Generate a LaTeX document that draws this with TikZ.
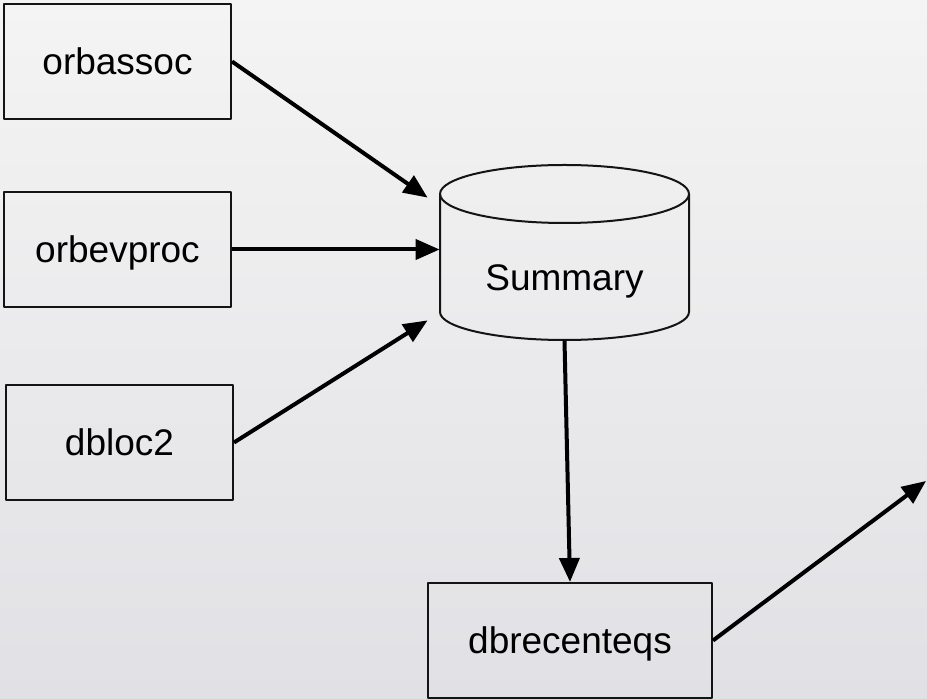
\documentclass[tikz,border=0pt]{standalone}
\usepackage{fontspec}
\setmainfont{Liberation Sans}
\usetikzlibrary{arrows.meta,calc}
\definecolor{bgtop}{RGB}{244,244,244}
\definecolor{bgmid}{RGB}{233,234,234}
\definecolor{bgbot}{RGB}{225,225,229}
\definecolor{ink}{RGB}{20,20,20}
\tikzset{
  tbl/.style={draw=ink,line width=1pt,minimum width=113.5pt,minimum height=57.5pt,
    text height=14pt,text depth=1pt,font=\fontsize{18.5}{22}\selectfont},
  flow/.style={draw=black,line width=2pt,-{Triangle[length=12pt,width=10pt]}},
}
\begin{document}
\begin{tikzpicture}[x=0.5pt,y=-0.5pt,join=round]
         \shade[top color=bgtop,middle color=bgmid,bottom color=bgbot] (0,0) rectangle (927,699);
         \useasboundingbox (0,0) rectangle (927,699);
         \node[tbl] (assoc) at (117.5,61.5) {orbassoc};
         \node[tbl] (evproc) at (117.5,249.5) {orbevproc};
         \node[tbl] (dbloc) at (119.5,442.5) {dbloc2};
         \node[tbl,minimum width=142pt] (recent) at (570,640.5) {dbrecenteqs};
         \node[minimum width=124.5pt,minimum height=87.5pt,inner sep=0pt] (sum) at (564.5,252.5) {};
         \draw[ink,line width=1pt] (440,194) -- (440,312) arc[start angle=180,end angle=0,x radius=124.5,y radius=28] -- (689,194);
         \draw[ink,line width=1pt] (564.5,194) ellipse [x radius=124.5,y radius=29];
         \node[font=\fontsize{18.5}{22}\selectfont] (sumtext) at (564.5,281) {Summary};
         \coordinate (outflow) at (926,481);
         \draw[flow] (assoc.east) -- ($(sum.north west)+(-12,33)$);
         \draw[flow] (evproc.east) -- (evproc.east -| sum.west);
         \draw[flow] (dbloc.east) -- ($(sum.south west)+(-12,-20)$);
         \draw[flow] (sum.south) -- (recent.north);
         \draw[flow] (recent.east) -- (outflow);
\end{tikzpicture}
\end{document}
